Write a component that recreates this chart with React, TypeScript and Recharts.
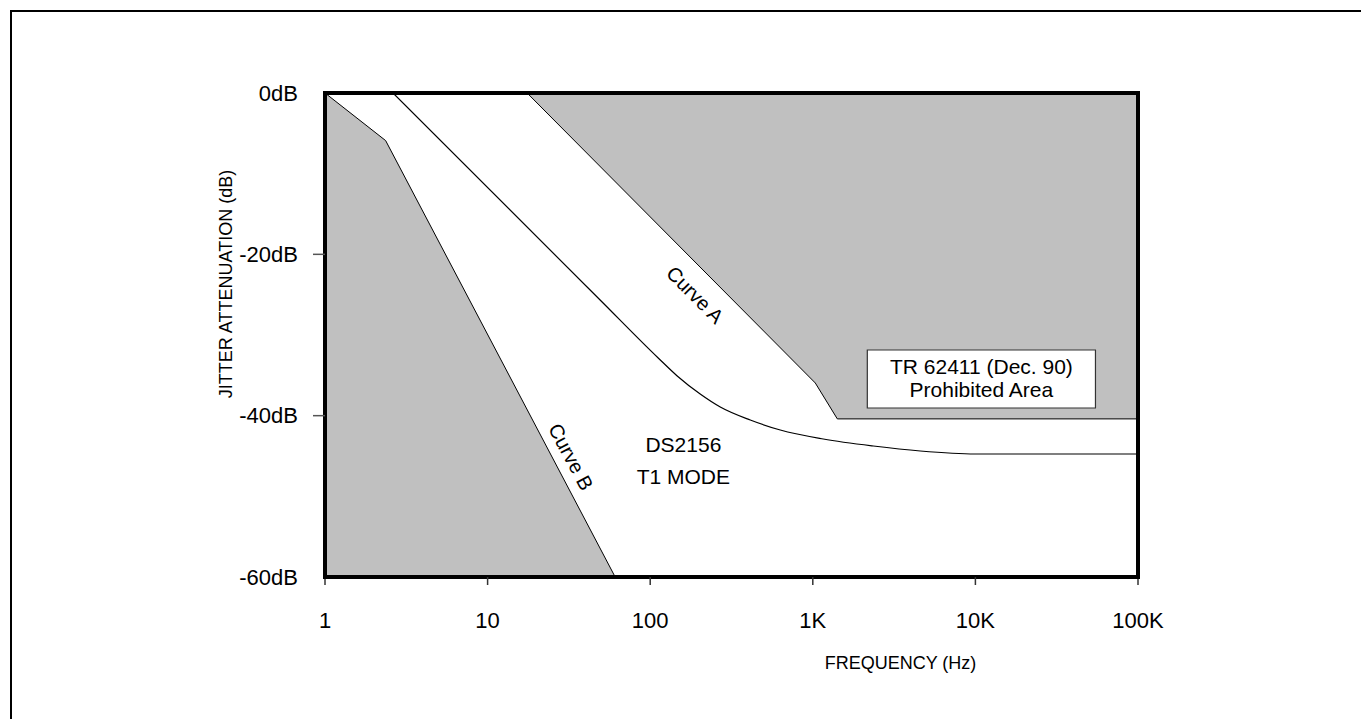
import * as React from 'react';
import {
  ComposedChart,
  Area,
  Line,
  XAxis,
  YAxis,
  ReferenceDot,
  ReferenceArea,
} from 'recharts';

// frequency axis (Hz, log)
const freqTicks = [1, 10, 100, 1000, 10000, 100000];
const freqTickLabels = ['1', '10', '100', '1K', '10K', '100K'];
const topTicks = [155, 1374, 12190];

// attenuation axis (dB)
const dbTicks = [0, -20, -40, -60];
const dbTickLabels = ['0dB', '-20dB', '-40dB', '-60dB'];

// Curve B (lower-left prohibited area boundary)
const curveBFreq = [1, 2.36, 60.9];
const curveBdB = [0, -5.9, -60];

// Curve A (TR 62411 prohibited area boundary)
const curveAFreq = [17.5, 1036, 1415, 100000];
const curveAdB = [0, -35.95, -40.4, -40.4];

// DS2156 T1 mode jitter attenuation
const dsFreq = [2.62, 49.2, 112, 146.6, 203, 269.7, 412.5, 631, 1160, 2357, 4586, 10000, 100000];
const dsdB = [0, -25.66, -32.85, -35.08, -37.32, -38.93, -40.54, -41.78, -42.89, -43.76, -44.38, -44.75, -44.75];

const zip = (f: number[], d: number[]) => f.map((v, i) => ({ f: v, db: d[i] }));

const curveBData = zip(curveBFreq, curveBdB);
const curveAData = zip(curveAFreq, curveAdB);
const dsData = zip(dsFreq, dsdB);

const FONT = '"Liberation Sans", Arial, sans-serif';
const GRAY = '#c0c0c0';

const fmtFreq = (v: number) => freqTickLabels[freqTicks.indexOf(v)] ?? String(v);

const YTick = (p: any) => {
  const v = p.payload.value;
  const label = dbTickLabels[dbTicks.indexOf(v)];
  return (
    <g>
      {(v === -20 || v === -40) && (
        <line x1={p.x + 15} x2={p.x + 27} y1={p.y} y2={p.y} stroke="#555" strokeWidth={1.5} />
      )}
      <text x={p.x} y={p.y} dy="0.355em" textAnchor="end" fontSize={22} fill="#000" fontFamily={FONT}>
        {label}
      </text>
    </g>
  );
};

const axisLine = { stroke: '#000', strokeWidth: 4, strokeLinecap: 'square' as const };

const note = (value: string, size: number, angle = 0) => ({
  value,
  position: 'center' as const,
  angle,
  fontSize: size,
  fill: '#000',
  fontFamily: FONT,
});

export default function App() {
  return (
    <div style={{ position: 'relative', width: 1353, height: 711, overflow: 'hidden', fontFamily: FONT }}>
      <div
        style={{
          position: 'absolute',
          left: 2,
          top: 2,
          width: 1600,
          height: 1000,
          border: '2px solid #000',
          boxSizing: 'border-box',
        }}
      />
      <div style={{ position: 'absolute', left: 0, top: 0 }}>
        <ComposedChart
          width={1353}
          height={711}
          margin={{ top: 85, right: 223, bottom: 62, left: 207 }}
          style={{ fontFamily: FONT }}
        >
          <XAxis
            dataKey="f"
            type="number"
            scale="log"
            domain={[1, 100000]}
            allowDataOverflow
            ticks={freqTicks}
            tickFormatter={fmtFreq}
            interval={0}
            height={80}
            tickSize={8}
            tickMargin={27}
            tick={{ fontSize: 22, fill: '#000', fontFamily: FONT }}
            tickLine={{ stroke: '#333', strokeWidth: 1.5 }}
            axisLine={axisLine}
            label={{
              value: 'FREQUENCY (Hz)',
              position: 'bottom',
              offset: -1,
              dx: 169,
              fontSize: 18,
              fill: '#000',
              fontFamily: FONT,
            }}
          />
          <XAxis
            xAxisId="top"
            orientation="top"
            type="number"
            scale="log"
            domain={[1, 100000]}
            allowDataOverflow
            ticks={topTicks}
            interval={0}
            mirror
            tick={false}
            tickSize={8}
            tickLine={{ stroke: '#444', strokeWidth: 1.5 }}
            axisLine={axisLine}
            height={1}
          />
          <YAxis
            type="number"
            domain={[-60, 0]}
            allowDataOverflow
            ticks={dbTicks}
            interval={0}
            width={110}
            tickSize={12}
            tickMargin={15}
            tickLine={false}
            tick={YTick}
            axisLine={axisLine}
            label={{
              value: 'JITTER ATTENUATION (dB)',
              angle: -90,
              position: 'center',
              dx: -44,
              dy: -51,
              fontSize: 18,
              fill: '#000',
              fontFamily: FONT,
            }}
          />
          <YAxis
            yAxisId="right"
            orientation="right"
            type="number"
            domain={[-60, 0]}
            allowDataOverflow
            ticks={[-20]}
            mirror
            tick={false}
            tickSize={10}
            tickLine={{ stroke: '#444', strokeWidth: 1.5 }}
            axisLine={axisLine}
            width={1}
          />

          <Area
            data={curveBData}
            dataKey="db"
            type="linear"
            baseValue={-60}
            fill={GRAY}
            fillOpacity={1}
            stroke="#000"
            strokeWidth={1}
            dot={false}
            activeDot={false}
            isAnimationActive={false}
          />
          <Area
            data={curveAData}
            dataKey="db"
            type="linear"
            baseValue={0}
            fill={GRAY}
            fillOpacity={1}
            stroke="#000"
            strokeWidth={1}
            dot={false}
            activeDot={false}
            isAnimationActive={false}
          />
          <Line
            data={dsData}
            dataKey="db"
            type="monotone"
            stroke="#000"
            strokeWidth={1.2}
            dot={false}
            activeDot={false}
            isAnimationActive={false}
          />

          <ReferenceArea
            x1={2164}
            x2={54750}
            y1={-39.05}
            y2={-31.86}
            fill="#fff"
            fillOpacity={1}
            stroke="#333"
            strokeWidth={1.2}
          />
          <ReferenceDot x={10888} y={-33.85} r={0} fill="none" stroke="none" label={note('TR 62411 (Dec. 90)', 21)} />
          <ReferenceDot x={10888} y={-36.7} r={0} fill="none" stroke="none" label={note('Prohibited Area', 21)} />
          <ReferenceDot x={189} y={-25.0} r={0} fill="none" stroke="none" label={note('Curve A', 20, 45)} />
          <ReferenceDot x={32.6} y={-45.1} r={0} fill="none" stroke="none" label={note('Curve B', 20, 62)} />
          <ReferenceDot x={160} y={-43.6} r={0} fill="none" stroke="none" label={note('DS2156', 21)} />
          <ReferenceDot x={160} y={-47.5} r={0} fill="none" stroke="none" label={note('T1 MODE', 21)} />
        </ComposedChart>
      </div>
    </div>
  );
}
